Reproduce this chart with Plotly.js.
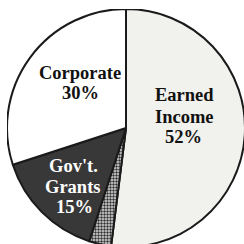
<!DOCTYPE html>
<html><head><meta charset="utf-8">
<script src="https://cdn.plot.ly/plotly-3.0.1.min.js"></script>
<style>html,body{margin:0;padding:0;background:#fff;overflow:hidden;width:244px;height:244px}
#chart{position:absolute;left:7px;top:9px;width:238px;height:238px}</style>
</head><body><div id="chart"></div>
<script>
const labels = ["Earned Income", "Other", "Gov't. Grants", "Corporate"];
const values = [52, 3, 15, 30];
const labelLines = [["Earned", "Income", "52%"], [], ["Gov't.", "Grants", "15%"], ["Corporate", "30%"]];

const W = 238, L = 7, T = 9;
const px = x => (x - L) / W;
const py = y => 1 - (y - T) / W;
const linePos = [
  [[184, 95], [184, 117], [183, 137]],
  [],
  [[73, 166], [73, 187], [74, 207]],
  [[80, 73], [80, 93]]
];
const textColors = ["#111", "#111", "#ffffff", "#111"];
const annotations = [];
labelLines.forEach((lines, i) => {
  lines.forEach((t, j) => {
    annotations.push({
      text: t, x: px(linePos[i][j][0]), y: py(linePos[i][j][1]),
      xref: "paper", yref: "paper", showarrow: false, xanchor: "center", yanchor: "middle",
      font: {family: "Liberation Serif", size: 18.5, color: textColors[i], weight: "bold"}
    });
  });
});

Plotly.newPlot("chart", [{
  type: "pie", labels: labels, values: values, sort: false, direction: "clockwise", rotation: 0,
  textinfo: "none", hoverinfo: "none",
  marker: {
    colors: ["#f1f1ed", "#9a9a9a", "#383838", "#ffffff"],
    line: {color: "#1a1a1a", width: 2},
    pattern: {shape: ["", ".", "", ""], fgcolor: "#333", bgcolor: "#ddd", size: 3, solidity: 0.5}
  },
  domain: {x: [0, 1], y: [0, 1]}
}], {
  width: W, height: W, margin: {l: 0, r: 0, t: 0, b: 0}, showlegend: false,
  font: {family: "Liberation Serif"},
  paper_bgcolor: "rgba(0,0,0,0)", annotations: annotations
}, {staticPlot: true, displayModeBar: false});
</script></body></html>
